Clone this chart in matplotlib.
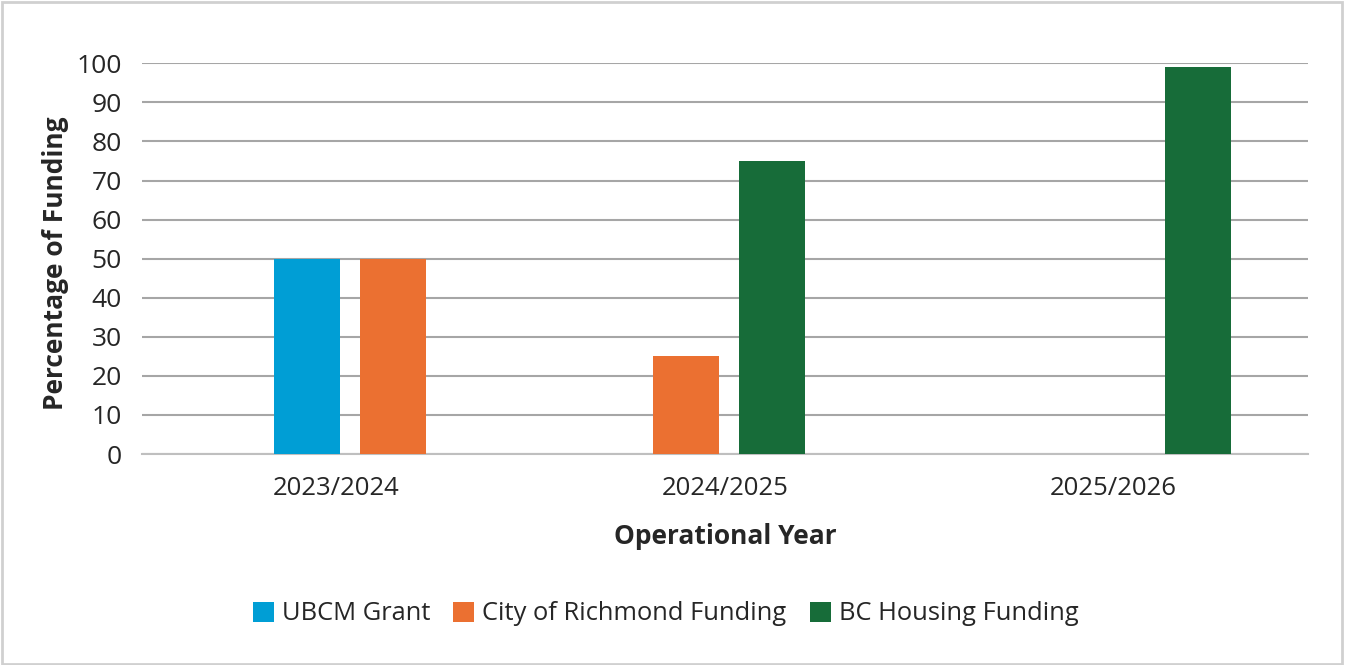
import numpy as np
import matplotlib.pyplot as plt
from matplotlib.patches import Patch, Rectangle

plt.rcParams['font.family'] = ['Open Sans', 'DejaVu Sans']

# data
years = ['2023/2024', '2024/2025', '2025/2026']
series = ['UBCM Grant', 'City of Richmond Funding', 'BC Housing Funding']
ubcm = [50, 0, 0]
richmond = [50, 25, 0]
bc_housing = [0, 75, 99]
colors = ['#009ED5', '#EB7031', '#176C39']

text_col = '#262626'
grid_col = '#A6A6A6'

fig = plt.figure(figsize=(13.45, 6.65), dpi=100)
ax = fig.add_axes([142 / 1345, 1 - 454 / 665, 1166 / 1345, 390.7 / 665])

x = np.arange(len(years))
slot = 0.221
width = 0.17
# the source chart does not centre every group the same way
group_shift = np.array([0.145, -0.1, -0.005])

for i, (vals, col) in enumerate(zip([ubcm, richmond, bc_housing], colors)):
    vals = np.array(vals)
    keep = vals > 0
    pos = x + (i - 1) * slot + group_shift
    ax.bar(pos[keep], vals[keep], width=width, color=col, zorder=3)

ax.set_xlim(-0.5, 2.5)
ax.set_ylim(0, 100)
ax.set_yticks(range(0, 101, 10))
ax.set_xticks(x)
ax.set_xticklabels(years)
ax.yaxis.grid(True, color=grid_col, linewidth=1.5, zorder=0)
ax.set_axisbelow(True)
for s in ['top', 'right', 'left']:
    ax.spines[s].set_visible(False)
ax.spines['bottom'].set_color('#BFBFBF')
ax.spines['bottom'].set_linewidth(1.5)
ax.tick_params(axis='y', length=0, pad=14.4, labelsize=19, labelcolor=text_col)
ax.tick_params(axis='x', length=0, pad=15.5, labelsize=18.5, labelcolor=text_col)

ax.set_xlabel('Operational Year', fontsize=19, fontweight='bold', color=text_col)
ax.xaxis.set_label_coords(0.5, -0.212)
ax.xaxis.label.set_va('center')
ax.set_ylabel('Percentage of Funding', fontsize=19, fontweight='bold', color=text_col)
ax.yaxis.set_label_coords(-0.0746, 0.489)
ax.yaxis.label.set_va('center')

handles = [Patch(facecolor=c, edgecolor='none') for c in colors]
leg = fig.legend(handles, series, loc='center', bbox_to_anchor=(665.5 / 1345, 1 - 614 / 665),
                 ncol=3, frameon=False, fontsize=18.4, handlelength=0.82, handleheight=0.82,
                 handletextpad=0.32, columnspacing=0.9, borderpad=0)
for t in leg.get_texts():
    t.set_color(text_col)

# light frame round the whole chart
fig.patches.append(Rectangle((2 / 1345, 1 / 665), 1340 / 1345, 662 / 665, transform=fig.transFigure,
                             fill=False, edgecolor='#D0D0D0', linewidth=2))

fig.savefig('out.png', dpi=100)
